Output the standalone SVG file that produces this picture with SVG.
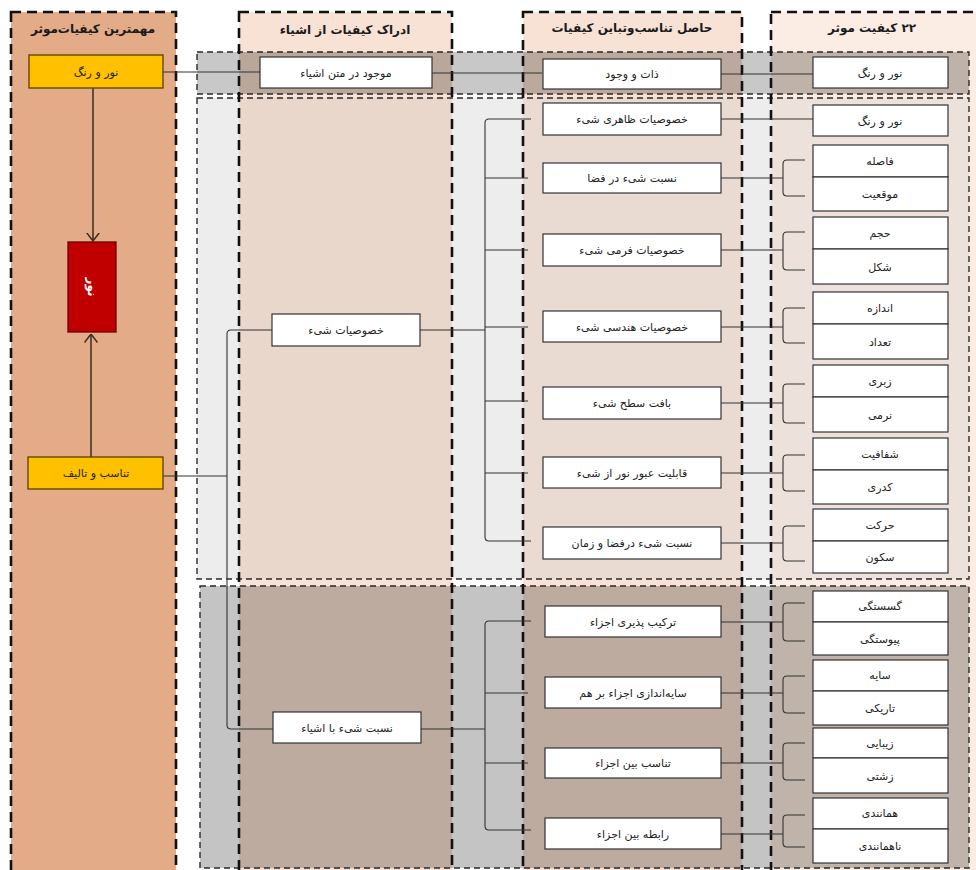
<svg xmlns="http://www.w3.org/2000/svg" width="976" height="870" viewBox="0 0 976 870">
<style>
.col{fill:none;stroke:#111;stroke-width:2.6;stroke-dasharray:10 6}
.band{fill:none;stroke:#2a2a2a;stroke-width:1.4;stroke-dasharray:6 4}
.box{fill:#fff;stroke:#333;stroke-width:1.2}
.ybox{fill:#FFC000;stroke:#5a4000;stroke-width:1.3}
.t{font-family:"DejaVu Sans","Noto Sans",sans-serif;font-size:11px;fill:#222;text-anchor:middle;direction:rtl}
.h{font-weight:bold;font-size:12px;fill:#1a1a1a}
.conn{fill:none;stroke:#333;stroke-width:1.1}
.arrow{fill:none;stroke:#3a2a20;stroke-width:1.5}
</style>
<defs>
<marker id="arr" viewBox="0 0 9 14" refX="8.5" refY="7" markerWidth="9" markerHeight="14" markerUnits="userSpaceOnUse" orient="auto">
<path d="M0,0.5 L8.5,7 L0,13.5" fill="none" stroke="#3a2a20" stroke-width="1.5"/>
</marker>
</defs>
<rect width="976" height="870" fill="#fff"/>
<g id="backgrounds">
<rect x="11" y="12" width="165" height="880" fill="#E3AB87"/>
<rect x="239" y="12" width="213" height="880" fill="#F7E2D5"/>
<rect x="523" y="12" width="219" height="880" fill="#F7E2D5"/>
<rect x="771" y="12" width="220" height="880" fill="#FBEDE4"/>
<rect x="197" y="52" width="772" height="42" fill="#C8C8C8"/>
<rect x="239" y="52" width="213" height="42" fill="#B9A799"/>
<rect x="523" y="52" width="219" height="42" fill="#BAA99C"/>
<rect x="771" y="52" width="198" height="42" fill="#BEB2A9"/>
<rect x="197" y="98" width="772" height="481" fill="#EDEDED"/>
<rect x="239" y="98" width="213" height="481" fill="#EAD7CB"/>
<rect x="523" y="98" width="219" height="481" fill="#E9DBD2"/>
<rect x="771" y="98" width="198" height="481" fill="#EDE2DB"/>
<rect x="200" y="586" width="769" height="282" fill="#C4C4C4"/>
<rect x="239" y="586" width="213" height="282" fill="#BCAB9E"/>
<rect x="523" y="586" width="219" height="282" fill="#BCAB9E"/>
<rect x="771" y="586" width="198" height="282" fill="#BFB3AA"/>
<rect class="band" x="197" y="52" width="772" height="42"/>
<rect class="band" x="197" y="98" width="772" height="481"/>
<rect class="band" x="200" y="586" width="769" height="282"/>
<rect class="col" x="11" y="12" width="165" height="880"/>
<rect class="col" x="239" y="12" width="213" height="880"/>
<rect class="col" x="523" y="12" width="219" height="880"/>
<rect class="col" x="771" y="12" width="230" height="880"/>
</g>
<g id="headers">
<text class="t h" x="93" y="33">مهمترین کیفیات‌موثر</text>
<text class="t h" x="345" y="34">ادراک کیفیات از اشیاء</text>
<text class="t h" x="632" y="32">حاصل تناسب‌وتباین کیفیات</text>
<text class="t h" x="872" y="32">۲۲ کیفیت موثر</text>
</g>
<g id="connectors">
<line class="arrow" x1="93" y1="88" x2="93" y2="241" marker-end="url(#arr)"/>
<line class="arrow" x1="91" y1="457" x2="91" y2="334" marker-end="url(#arr)"/>
<path class="conn" d="M163,72 H260 M432,73 H542 M721,74 H813"/>
<path class="conn" d="M272,330 H231 Q227,330 227,334 V725 Q227,729 231,729 H273 M163,476 H227"/>
<path class="conn" d="M420,330 H485 M531,119 H489 Q485,119 485,123 V537 Q485,541 489,541 H531 M485,178 H528 M485,250 H528 M485,327 H528 M485,401 H528 M485,473 H528"/>
<path class="conn" d="M421,729 H485 M531,621 H489 Q485,621 485,625 V826 Q485,830 489,830 H531 M485,693 H528 M485,763 H528"/>
<path class="conn" d="M721,119 H813"/>
<path class="conn" d="M721,178 H783 M805,160 H787 Q783,160 783,164 V192 Q783,196 787,196 H805"/>
<path class="conn" d="M721,250 H783 M805,232 H787 Q783,232 783,236 V266 Q783,270 787,270 H805"/>
<path class="conn" d="M721,327 H783 M805,308 H787 Q783,308 783,312 V339 Q783,343 787,343 H805"/>
<path class="conn" d="M721,403 H783 M805,384 H787 Q783,384 783,388 V419 Q783,423 787,423 H805"/>
<path class="conn" d="M721,473 H783 M805,455 H787 Q783,455 783,459 V487 Q783,491 787,491 H805"/>
<path class="conn" d="M721,543 H783 M805,526 H787 Q783,526 783,530 V557 Q783,561 787,561 H805"/>
<path class="conn" d="M721,622 H783 M805,603 H787 Q783,603 783,607 V637 Q783,641 787,641 H805"/>
<path class="conn" d="M721,693 H783 M805,676 H787 Q783,676 783,680 V709 Q783,713 787,713 H805"/>
<path class="conn" d="M721,763 H783 M805,743 H787 Q783,743 783,747 V776 Q783,780 787,780 H805"/>
<path class="conn" d="M721,834 H783 M805,815 H787 Q783,815 783,819 V843 Q783,847 787,847 H805"/>
</g>
<g id="n-noor-rang-main"><rect class="ybox" x="29" y="55" width="134" height="33"/><text class="t" x="96" y="76" fill="#3a2a00">نور و رنگ</text></g>
<g id="n-noor"><rect x="68" y="242" width="48" height="90" fill="#C00000" stroke="#6b0000" stroke-width="1.3"/><text class="t" x="0" y="0" transform="translate(88,287) rotate(90)" style="fill:#fff;font-weight:bold;font-size:12px">نور</text></g>
<g id="n-tanasob"><rect class="ybox" x="28" y="457" width="135" height="32"/><text class="t" x="96" y="477">تناسب و تالیف</text></g>
<g id="n-mojud"><rect class="box" x="260" y="57" width="172" height="31"/><text class="t" x="346" y="77">موجود در متن اشیاء</text></g>
<g id="n-khosusiat"><rect class="box" x="272" y="314" width="148" height="32"/><text class="t" x="346" y="334">خصوصیات شیء</text></g>
<g id="n-nesbat-ashya"><rect class="box" x="273" y="712" width="148" height="31"/><text class="t" x="347" y="732">نسبت شیء با اشیاء</text></g>
<g id="n-zat"><rect class="box" x="543" y="59" width="178" height="30"/><text class="t" x="632" y="78">ذات و وجود</text></g>
<g id="n-zaheri"><rect class="box" x="543" y="103" width="178" height="32"/><text class="t" x="632" y="123">خصوصیات ظاهری شیء</text></g>
<g id="n-faza"><rect class="box" x="543" y="163" width="178" height="30"/><text class="t" x="632" y="182">نسبت شیء در فضا</text></g>
<g id="n-fermi"><rect class="box" x="543" y="234" width="178" height="32"/><text class="t" x="632" y="254">خصوصیات فرمی شیء</text></g>
<g id="n-hendesi"><rect class="box" x="543" y="311" width="178" height="31"/><text class="t" x="632" y="331">خصوصیات هندسی شیء</text></g>
<g id="n-baft"><rect class="box" x="543" y="387" width="178" height="32"/><text class="t" x="632" y="407">بافت سطح شیء</text></g>
<g id="n-obur"><rect class="box" x="543" y="457" width="178" height="31"/><text class="t" x="632" y="477">قابلیت عبور نور از شیء</text></g>
<g id="n-zaman"><rect class="box" x="543" y="527" width="178" height="32"/><text class="t" x="632" y="547">نسبت شیء درفضا و زمان</text></g>
<g id="n-tarkib"><rect class="box" x="545" y="606" width="176" height="31"/><text class="t" x="633" y="626">ترکیب پذیری اجزاء</text></g>
<g id="n-sayeandazi"><rect class="box" x="545" y="677" width="176" height="31"/><text class="t" x="633" y="697">سایه‌اندازی اجزاء بر هم</text></g>
<g id="n-tanasob-ajza"><rect class="box" x="545" y="748" width="176" height="30"/><text class="t" x="633" y="767">تناسب بین اجزاء</text></g>
<g id="n-rabete"><rect class="box" x="545" y="818" width="176" height="31"/><text class="t" x="633" y="838">رابطه بین اجزاء</text></g>
<g id="q-noor-rang-1"><rect class="box" x="813" y="57" width="135" height="31"/><text class="t" x="880" y="77">نور و رنگ</text></g>
<g id="q-noor-rang-2"><rect class="box" x="813" y="105" width="135" height="31"/><text class="t" x="880" y="125">نور و رنگ</text></g>
<g id="q-fasele"><rect class="box" x="813" y="145" width="135" height="32"/><text class="t" x="880" y="165">فاصله</text></g>
<g id="q-mogheiat"><rect class="box" x="813" y="177" width="135" height="34"/><text class="t" x="880" y="198">موقعیت</text></g>
<g id="q-hajm"><rect class="box" x="813" y="217" width="135" height="32"/><text class="t" x="880" y="237">حجم</text></g>
<g id="q-shekl"><rect class="box" x="813" y="249" width="135" height="35"/><text class="t" x="880" y="271">شکل</text></g>
<g id="q-andaze"><rect class="box" x="813" y="292" width="135" height="32"/><text class="t" x="880" y="312">اندازه</text></g>
<g id="q-tedad"><rect class="box" x="813" y="324" width="135" height="35"/><text class="t" x="880" y="346">تعداد</text></g>
<g id="q-zebri"><rect class="box" x="813" y="365" width="135" height="32"/><text class="t" x="880" y="385">زبری</text></g>
<g id="q-narmi"><rect class="box" x="813" y="397" width="135" height="35"/><text class="t" x="880" y="419">نرمی</text></g>
<g id="q-shafafiat"><rect class="box" x="813" y="438" width="135" height="32"/><text class="t" x="880" y="458">شفافیت</text></g>
<g id="q-kadari"><rect class="box" x="813" y="470" width="135" height="34"/><text class="t" x="880" y="491">کدری</text></g>
<g id="q-harekat"><rect class="box" x="813" y="509" width="135" height="32"/><text class="t" x="880" y="529">حرکت</text></g>
<g id="q-sokun"><rect class="box" x="813" y="541" width="135" height="32"/><text class="t" x="880" y="561">سکون</text></g>
<g id="q-gosastegi"><rect class="box" x="813" y="591" width="135" height="31"/><text class="t" x="880" y="610">گسستگی</text></g>
<g id="q-peyvastegi"><rect class="box" x="813" y="622" width="135" height="33"/><text class="t" x="880" y="643">پیوستگی</text></g>
<g id="q-saye"><rect class="box" x="813" y="660" width="135" height="31"/><text class="t" x="880" y="679">سایه</text></g>
<g id="q-tariki"><rect class="box" x="813" y="691" width="135" height="34"/><text class="t" x="880" y="712">تاریکی</text></g>
<g id="q-zibaei"><rect class="box" x="813" y="728" width="135" height="30"/><text class="t" x="880" y="747">زیبایی</text></g>
<g id="q-zeshti"><rect class="box" x="813" y="758" width="135" height="35"/><text class="t" x="880" y="780">زشتی</text></g>
<g id="q-hamanandi"><rect class="box" x="813" y="798" width="135" height="31"/><text class="t" x="880" y="817">همانندی</text></g>
<g id="q-nahamanandi"><rect class="box" x="813" y="829" width="135" height="34"/><text class="t" x="880" y="850">ناهمانندی</text></g>
</svg>
